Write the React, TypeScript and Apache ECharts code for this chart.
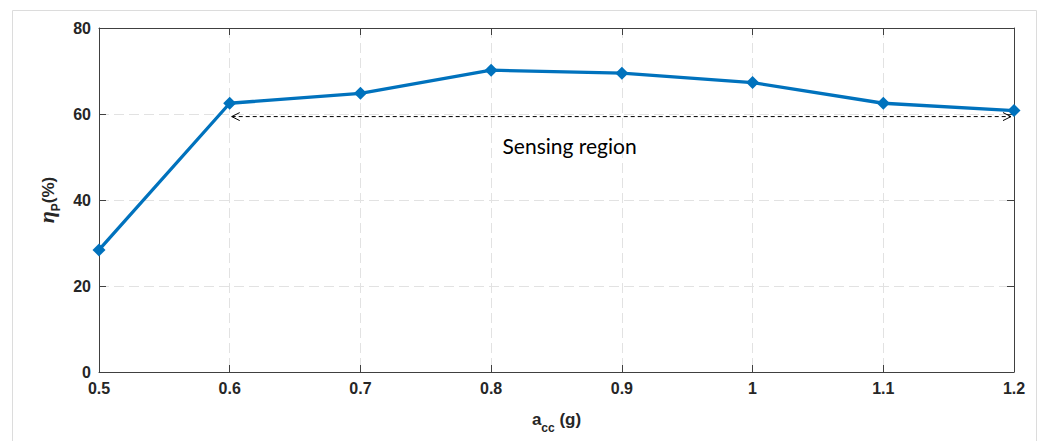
import React, { useEffect, useRef } from "react";
import * as echarts from "echarts";

const accValues = [0.5, 0.6, 0.7, 0.8, 0.9, 1.0, 1.1, 1.2];
const etaValues = [28.4, 62.5, 64.8, 70.2, 69.5, 67.3, 62.5, 60.8];
const sensingArrow = [[0.6, 1.2, 59.4]];
const sensingLabel = [[0.86, 52.6, "Sensing region"]];
const xTicks = { min: 0.5, max: 1.2, interval: 0.1 };
const yTicks = { min: 0, max: 80, interval: 20 };

const TEXT = "#262626";
const AXIS = "#404040";
const GRID = "#e2e2e2";
const BLUE = "#0072BD";

export default function App() {
  const ref = useRef<HTMLDivElement>(null);
  useEffect(() => {
    if (!ref.current) return;
    const chart = echarts.init(ref.current, undefined, { renderer: "svg" });
    const lineData = accValues.map((x, i) => [x, etaValues[i]]);
    const axisLabelStyle = {
      color: TEXT,
      fontFamily: "Liberation Sans, Arial, sans-serif",
      fontWeight: "bold" as const,
      fontSize: 16,
    };
    chart.setOption({
      animation: false,
      backgroundColor: "#ffffff",
      graphic: [
        {
          type: "rect",
          shape: { x: 12.5, y: 10.5, width: 1024, height: 440 },
          style: { fill: "none", stroke: "#dcdcdc", lineWidth: 1 },
          silent: true,
          z: -10,
        },
      ],
      grid: { left: 99, right: 27, top: 28, bottom: 69, containLabel: false },
      xAxis: [
        {
          type: "value",
          min: xTicks.min,
          max: xTicks.max,
          interval: xTicks.interval,
          position: "bottom",
          axisLine: { show: true, onZero: false, lineStyle: { color: AXIS, width: 1 } },
          axisTick: { show: true, inside: true, length: 7, lineStyle: { color: AXIS } },
          axisLabel: { ...axisLabelStyle, margin: 8, formatter: (v: number) => String(+v.toFixed(2)) },
          splitLine: { show: true, lineStyle: { color: GRID, type: [10, 5], width: 1 } },
          name: "{a|a}{s|cc}{a| (g)}",
          nameLocation: "middle",
          nameGap: 36,
          nameTextStyle: {
            rich: {
              a: { color: TEXT, fontFamily: "Liberation Sans, Arial, sans-serif", fontWeight: "bold", fontSize: 17, verticalAlign: "bottom", lineHeight: 20 },
              s: { color: TEXT, fontFamily: "Liberation Sans, Arial, sans-serif", fontWeight: "bold", fontSize: 12, verticalAlign: "bottom", lineHeight: 14, padding: [0, 0, -6, 0] },
            },
          },
        },
        {
          type: "value",
          min: xTicks.min,
          max: xTicks.max,
          interval: xTicks.interval,
          position: "top",
          axisLine: { show: true, onZero: false, lineStyle: { color: AXIS, width: 1 } },
          axisTick: { show: true, inside: true, length: 7, lineStyle: { color: AXIS } },
          axisLabel: { show: false },
          splitLine: { show: false },
        },
      ],
      yAxis: [
        {
          type: "value",
          min: yTicks.min,
          max: yTicks.max,
          interval: yTicks.interval,
          position: "left",
          axisLine: { show: true, onZero: false, lineStyle: { color: AXIS, width: 1 } },
          axisTick: { show: true, inside: true, length: 7, lineStyle: { color: AXIS } },
          axisLabel: { ...axisLabelStyle, margin: 8 },
          splitLine: { show: true, lineStyle: { color: GRID, type: [10, 5], width: 1 } },
          name: "{e|η}{s|P}{a|(%)}",
          nameLocation: "middle",
          nameGap: 42,
          nameRotate: 90,
          nameTextStyle: {
            rich: {
              e: { color: TEXT, fontFamily: "Liberation Serif, Times New Roman, serif", fontStyle: "italic", fontWeight: "bold", fontSize: 22, verticalAlign: "bottom", lineHeight: 22 },
              s: { color: TEXT, fontFamily: "Liberation Sans, Arial, sans-serif", fontWeight: "bold", fontSize: 12, verticalAlign: "bottom", lineHeight: 14, padding: [0, 0, -5, 0] },
              a: { color: TEXT, fontFamily: "Liberation Sans, Arial, sans-serif", fontWeight: "bold", fontSize: 17, verticalAlign: "bottom", lineHeight: 22 },
            },
          },
        },
        {
          type: "value",
          min: yTicks.min,
          max: yTicks.max,
          interval: yTicks.interval,
          position: "right",
          axisLine: { show: true, onZero: false, lineStyle: { color: AXIS, width: 1 } },
          axisTick: { show: true, inside: true, length: 7, lineStyle: { color: AXIS } },
          axisLabel: { show: false },
          splitLine: { show: false },
        },
      ],
      series: [
        {
          type: "custom",
          xAxisIndex: 0,
          yAxisIndex: 0,
          data: sensingArrow,
          clip: false,
          z: 3,
          renderItem: (params: any, api: any) => {
            const p1 = api.coord([api.value(0), api.value(2)]);
            const p2 = api.coord([api.value(1), api.value(2)]);
            const x1 = p1[0] + 2;
            const x2 = p2[0] - 3;
            const y = p1[1];
            return {
              type: "group",
              children: [
                { type: "line", shape: { x1, y1: y, x2, y2: y }, style: { stroke: "#000", lineWidth: 1, lineDash: [4, 3] } },
                { type: "polyline", shape: { points: [[x1 + 8, y - 4], [x1, y], [x1 + 8, y + 4]] }, style: { stroke: "#000", fill: "none", lineWidth: 1 } },
                { type: "polyline", shape: { points: [[x2 - 8, y - 4], [x2, y], [x2 - 8, y + 4]] }, style: { stroke: "#000", fill: "none", lineWidth: 1 } },
              ],
            };
          },
        },
        {
          type: "custom",
          xAxisIndex: 0,
          yAxisIndex: 0,
          data: sensingLabel,
          clip: false,
          z: 3,
          renderItem: (params: any, api: any) => {
            const p = api.coord([api.value(0), api.value(1)]);
            return {
              type: "text",
              x: p[0],
              y: p[1],
              style: {
                text: sensingLabel[params.dataIndex][2] as string,
                fill: "#000",
                font: "21px Lato, 'Open Sans', sans-serif",
                align: "center",
                verticalAlign: "middle",
              },
            };
          },
        },
        {
          type: "line",
          xAxisIndex: 0,
          yAxisIndex: 0,
          data: lineData,
          clip: false,
          z: 5,
          symbol: "diamond",
          symbolSize: 13,
          lineStyle: { color: BLUE, width: 3.3 },
          itemStyle: { color: BLUE },
        },
      ],
    });
    return () => chart.dispose();
  }, []);
  return (
    <div
      ref={ref}
      style={{ position: "absolute", left: 0, top: 0, width: 1041, height: 441 }}
    />
  );
}
